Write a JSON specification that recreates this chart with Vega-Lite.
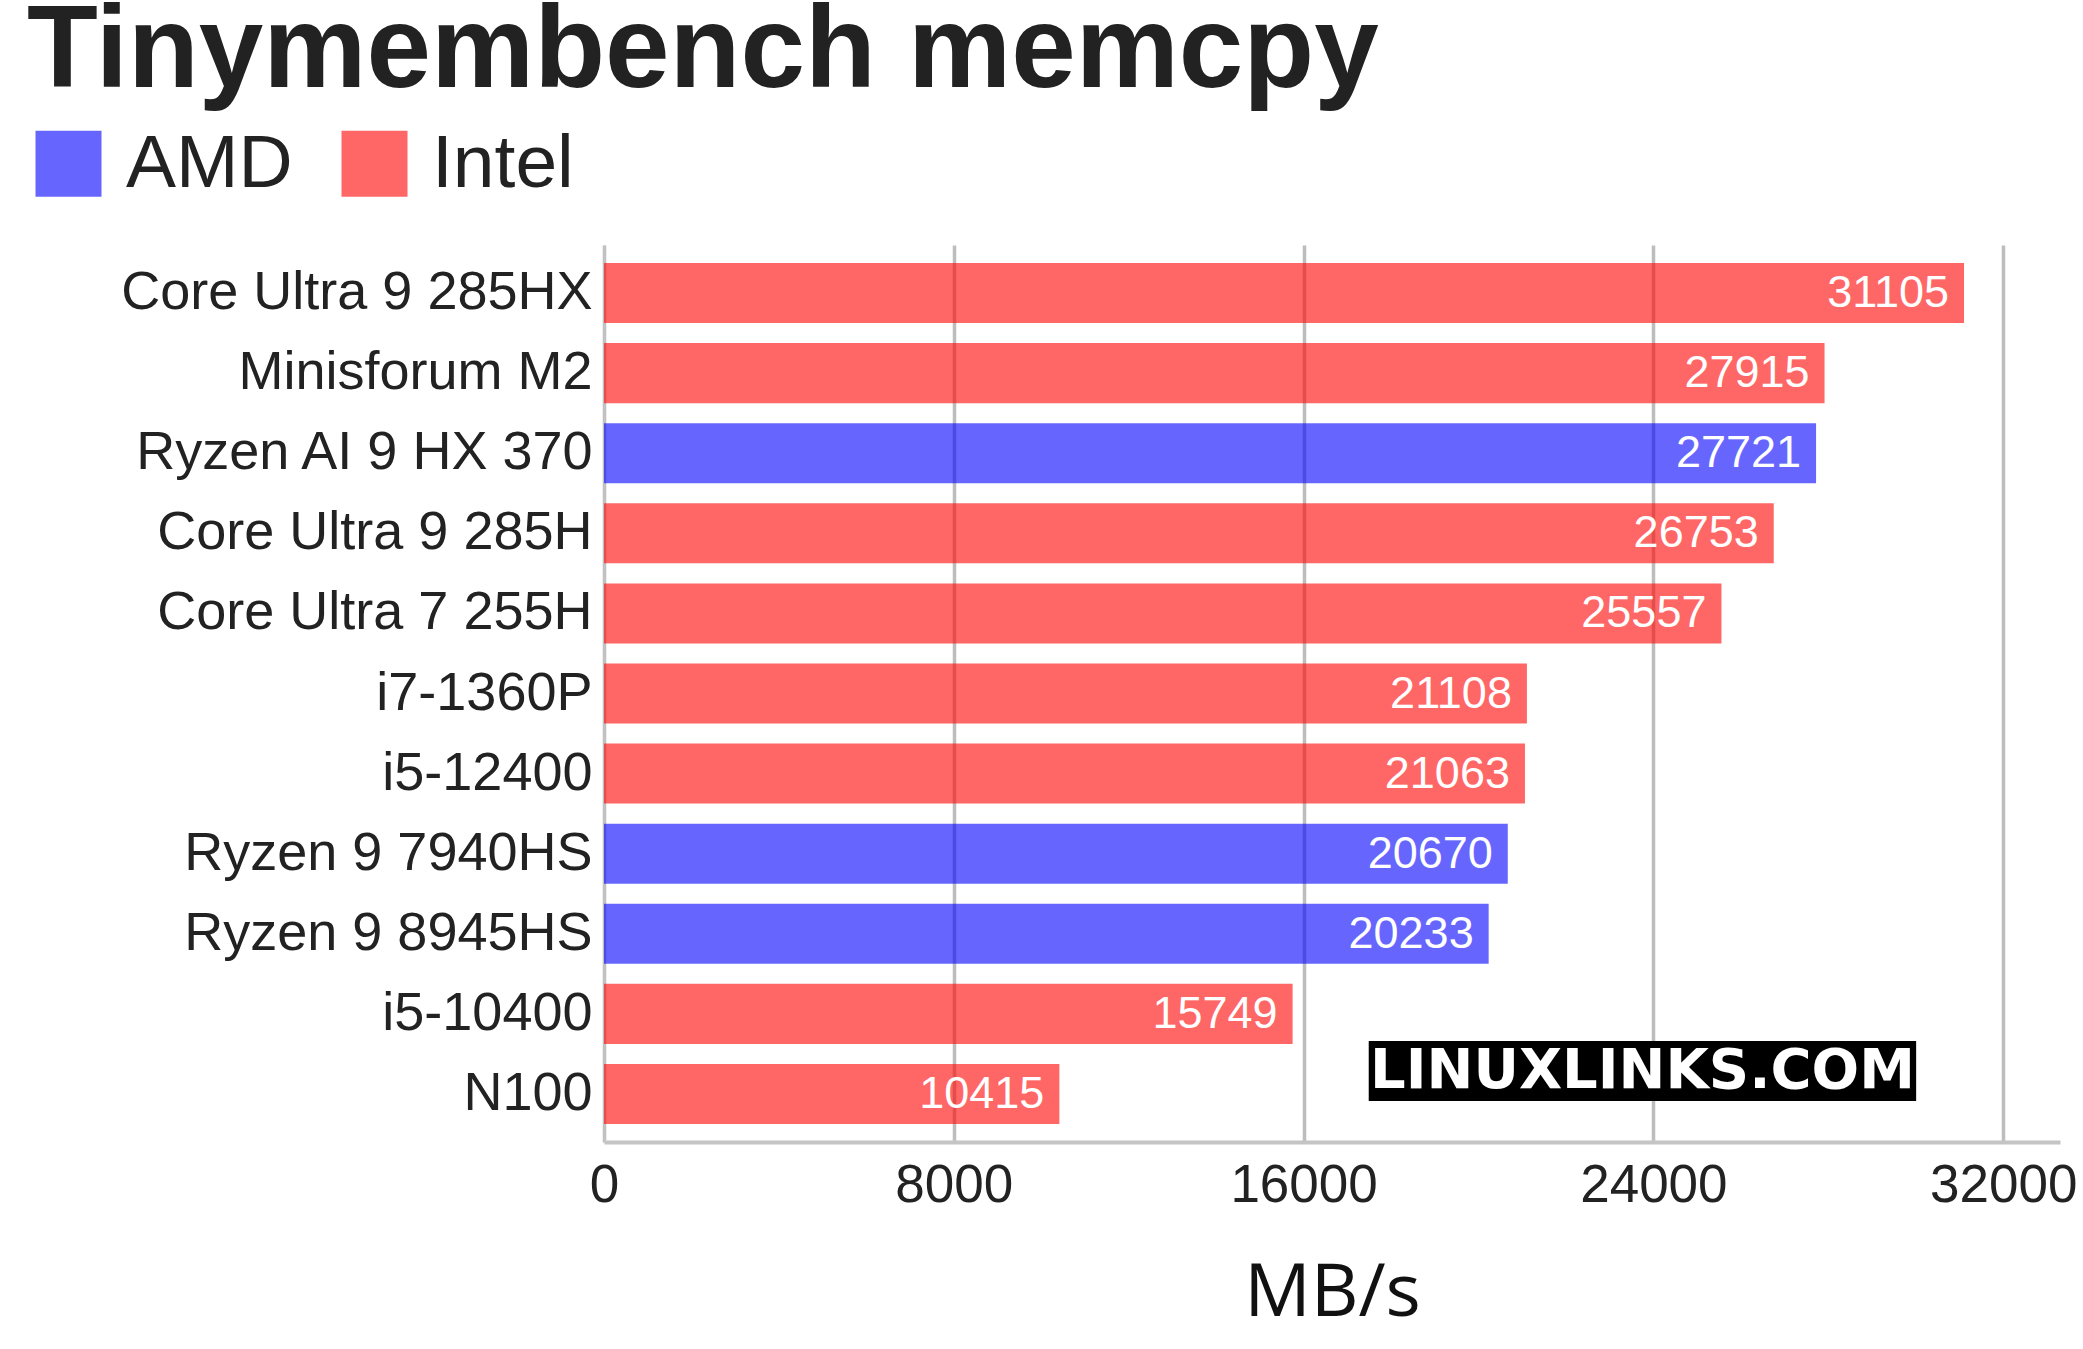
{
  "$schema": "https://vega.github.io/schema/vega-lite/v6.json",
  "autosize": {"type": "none"},
  "padding": {"left": 604, "top": 245, "right": 23, "bottom": 207},
  "width": 1456,
  "height": 897,
  "background": "white",
  "title": {
    "text": "Tinymembench memcpy",
    "font": "Liberation Sans",
    "fontWeight": "bold",
    "fontSize": 116,
    "color": "#222222",
    "anchor": "start",
    "frame": "group",
    "baseline": "alphabetic",
    "offset": 0,
    "dx": -577,
    "dy": 77
  },
  "datasets": {
    "cpus": [
      {"cpu": "Core Ultra 9 285HX", "mbs": 31105, "maker": "Intel"},
      {"cpu": "Minisforum M2", "mbs": 27915, "maker": "Intel"},
      {"cpu": "Ryzen AI 9 HX 370", "mbs": 27721, "maker": "AMD"},
      {"cpu": "Core Ultra 9 285H", "mbs": 26753, "maker": "Intel"},
      {"cpu": "Core Ultra 7 255H", "mbs": 25557, "maker": "Intel"},
      {"cpu": "i7-1360P", "mbs": 21108, "maker": "Intel"},
      {"cpu": "i5-12400", "mbs": 21063, "maker": "Intel"},
      {"cpu": "Ryzen 9 7940HS", "mbs": 20670, "maker": "AMD"},
      {"cpu": "Ryzen 9 8945HS", "mbs": 20233, "maker": "AMD"},
      {"cpu": "i5-10400", "mbs": 15749, "maker": "Intel"},
      {"cpu": "N100", "mbs": 10415, "maker": "Intel"}
    ],
    "mark": [
      {"label": "LINUXLINKS.COM", "start": 17490, "end": 30010, "mid": 23750, "row": "N100"}
    ]
  },
  "layer": [
    {
      "data": {"name": "cpus"},
      "mark": {"type": "bar", "opacity": 0.6},
      "encoding": {
        "y": {
          "field": "cpu",
          "type": "nominal",
          "sort": null,
          "title": null,
          "scale": {"paddingInner": 0.25, "paddingOuter": 0.225},
          "axis": {
            "ticks": false,
            "grid": false,
            "domainColor": "#c4c4c4",
            "domainWidth": 2,
            "labelFont": "Liberation Sans",
            "labelFontSize": 54,
            "labelColor": "#222222",
            "labelPadding": 12,
            "labelLimit": 700
          }
        },
        "x": {
          "field": "mbs",
          "type": "quantitative",
          "scale": {"domain": [0, 33300], "nice": false},
          "title": "MB/s",
          "axis": {
            "values": [0, 8000, 16000, 24000, 32000],
            "format": "d",
            "ticks": false,
            "tickSize": 0,
            "grid": true,
            "gridColor": "#bdbdbd",
            "gridWidth": 3.5,
            "domainColor": "#c4c4c4",
            "domainWidth": 4,
            "labelFont": "Liberation Sans",
            "labelFontSize": 53,
            "labelColor": "#222222",
            "labelPadding": 17,
            "labelFlush": false,
            "titleFont": "Open Sans",
            "titleFontSize": 74,
            "titleFontWeight": "normal",
            "titleColor": "#111111",
            "titleBaseline": "alphabetic",
            "titleY": 173
          }
        },
        "color": {
          "field": "maker",
          "type": "nominal",
          "scale": {"domain": ["AMD", "Intel"], "range": ["#0000ff", "#ff0000"]},
          "legend": {
            "title": null,
            "orient": "none",
            "direction": "horizontal",
            "legendX": -573,
            "legendY": -119,
            "padding": 0,
            "symbolType": "square",
            "symbolSize": 4356,
            "symbolStrokeWidth": 0,
            "symbolOpacity": 0.6,
            "labelFont": "Liberation Sans",
            "labelFontSize": 75,
            "labelColor": "#222222",
            "labelOffset": 20,
            "labelLimit": 400,
            "columnPadding": 44
          }
        }
      }
    },
    {
      "data": {"name": "cpus"},
      "mark": {
        "type": "text",
        "align": "right",
        "baseline": "middle",
        "dx": -15,
        "color": "white",
        "font": "Liberation Sans",
        "fontSize": 45
      },
      "encoding": {
        "y": {"field": "cpu", "type": "nominal", "sort": null},
        "x": {"field": "mbs", "type": "quantitative"},
        "text": {"field": "mbs", "type": "quantitative", "format": "d"}
      }
    },
    {
      "data": {"name": "mark"},
      "mark": {"type": "bar", "color": "black", "yOffset": -23},
      "encoding": {
        "x": {"field": "start", "type": "quantitative"},
        "x2": {"field": "end"},
        "y": {"field": "row", "type": "nominal", "sort": null}
      }
    },
    {
      "data": {"name": "mark"},
      "mark": {
        "type": "text",
        "color": "white",
        "font": "DejaVu Sans",
        "fontWeight": "bold",
        "fontSize": 56,
        "align": "center",
        "baseline": "middle",
        "yOffset": -23
      },
      "encoding": {
        "x": {"field": "mid", "type": "quantitative"},
        "y": {"field": "row", "type": "nominal", "sort": null},
        "text": {"field": "label"}
      }
    }
  ],
  "config": {"view": {"stroke": null}}
}
